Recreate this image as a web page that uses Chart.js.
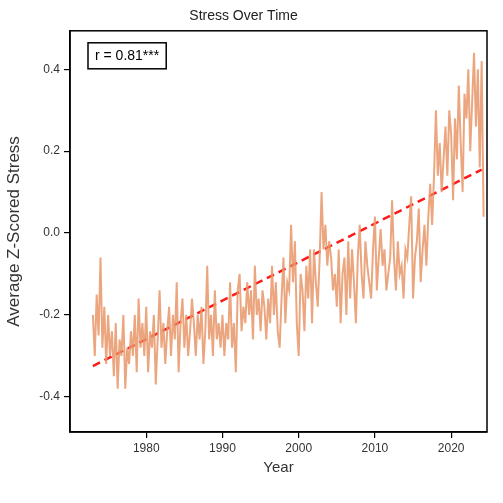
<!DOCTYPE html>
<html><head><meta charset="utf-8">
<script src="https://cdn.jsdelivr.net/npm/chart.js@4"></script>
<style>html,body{margin:0;padding:0;background:#fff}#w{width:503px;height:503px}</style>
</head><body><div id="w"><canvas id="c"></canvas></div>
<script>
const startYear = 1973;
const perYear = 4;
const stress = [
-0.20,-0.30,-0.15,-0.25, -0.06,-0.28,-0.18,-0.32, -0.20,-0.30,-0.24,-0.35, -0.22,-0.38,-0.26,-0.30,
-0.20,-0.38,-0.28,-0.32, -0.24,-0.30,-0.20,-0.34, -0.16,-0.28,-0.22,-0.30, -0.18,-0.34,-0.24,-0.28,
-0.20,-0.37,-0.26,-0.14, -0.28,-0.22,-0.32,-0.24, -0.18,-0.30,-0.20,-0.26, -0.12,-0.34,-0.22,-0.16,
-0.28,-0.20,-0.30,-0.24, -0.16,-0.22,-0.30,-0.20, -0.26,-0.18,-0.32,-0.24, -0.08,-0.26,-0.20,-0.30,
-0.14,-0.26,-0.22,-0.28, -0.20,-0.30,-0.22,-0.26, -0.12,-0.28,-0.22,-0.34, -0.14,-0.10,-0.24,-0.18,
-0.22,-0.12,-0.20,-0.14, -0.26,-0.08,-0.20,-0.16, -0.24,-0.14,-0.18,-0.26, -0.16,-0.22,-0.08,-0.20,
-0.12,-0.24,-0.28,-0.16, -0.06,-0.22,-0.12,-0.14, 0.02,-0.12,-0.02,-0.22, -0.30,-0.10,-0.14,-0.24,
-0.08,-0.16,-0.04,-0.22, -0.04,-0.12,-0.18,-0.06, 0.10,-0.04,0.02,-0.08, -0.02,-0.06,-0.14,-0.10,
-0.18,-0.04,-0.22,-0.10, -0.06,-0.20,-0.02,-0.16, -0.04,-0.12,-0.22,-0.06, 0.02,-0.10,-0.16,-0.02,
-0.08,-0.12,-0.16,-0.04, 0.04,-0.14,-0.06,0.01, -0.08,-0.04,-0.14,-0.10, -0.06,0.08,-0.06,-0.14,
-0.02,-0.10,-0.08,-0.16, -0.04,-0.06,0.02,0.09, -0.16,-0.06,-0.02,0.06, -0.12,-0.04,0.02,-0.08,
0.04,0.12,0.02,0.14, 0.30,0.14,0.22,0.10, 0.18,0.26,0.14,0.30, 0.24,0.08,0.28,0.18,
0.36,0.22,0.10,0.34, 0.28,0.40,0.20,0.32, 0.44,0.26,0.40,0.16, 0.42,0.04
];
const trendYears = [1973, 2024];
const trendValues = [-0.325, 0.155];
const xTicks = [1980, 1990, 2000, 2010, 2020];
const yTicks = [-0.4, -0.2, 0.0, 0.2, 0.4];
const annotationText = 'r = 0.81***';

const stressPts = stress.map((v,i)=>({x: startYear + i/perYear, y: v}));
const trendPts = trendYears.map((x,i)=>({x, y: trendValues[i]}));
const F = '"Liberation Sans", Arial, sans-serif';

const annot = {id:'annot', afterDraw(ch){
  const c=ch.ctx, a=ch.chartArea;
  c.save(); c.font='14px '+F;
  const w=c.measureText(annotationText).width;
  const x=a.left+18, y=a.top+12;
  c.fillStyle='#fff'; c.fillRect(x,y,w+14,26);
  c.strokeStyle='#000'; c.lineWidth=1.5; c.strokeRect(x,y,w+14,26);
  c.fillStyle='#000'; c.textBaseline='middle'; c.fillText(annotationText,x+7,y+13);
  c.strokeRect(a.left,a.top,a.right-a.left,a.bottom-a.top);
  c.restore();
}};

new Chart(document.getElementById('c'),{
  type:'line',
  data:{datasets:[
    {data:stressPts, borderColor:'rgba(232,150,105,0.85)', borderWidth:2, pointRadius:0, tension:0},
    {data:trendPts, borderColor:'#ff1a1a', borderWidth:2.5, borderDash:[8,5], pointRadius:0}
  ]},
  options:{responsive:true, maintainAspectRatio:false, animation:false,
    layout:{padding:{top:0,right:16,bottom:22,left:0}},
    plugins:{legend:{display:false}, tooltip:{enabled:false},
      title:{display:true, text:'Stress Over Time', color:'#222', font:{family:F,size:14,weight:'normal'}, padding:{top:8,bottom:6}}},
    scales:{
      x:{type:'linear', min:1970, max:2024.7,
        grid:{drawOnChartArea:false, color:'#000', tickLength:6, lineWidth:1.2},
        border:{color:'#000',width:1.5},
        afterBuildTicks(ax){ax.ticks=xTicks.map(v=>({value:v}));},
        afterFit(ax){ax.height=49;},
        ticks:{color:'#333', font:{family:F,size:12}, padding:3, callback:v=>String(v)},
        title:{display:true,text:'Year',color:'#333',font:{family:F,size:15},padding:{top:2}}},
      y:{min:-0.486, max:0.494,
        grid:{drawOnChartArea:false, color:'#000', tickLength:6, lineWidth:1.2},
        border:{color:'#000',width:1.5},
        afterBuildTicks(ax){ax.ticks=yTicks.map(v=>({value:v}));},
        afterFit(ax){ax.width=70;},
        ticks:{color:'#333', font:{family:F,size:12}, padding:4, callback:v=>v.toFixed(1)},
        title:{display:true,text:'Average Z-Scored Stress',color:'#333',font:{family:F,size:17},padding:{bottom:2}}}
    }
  },
  plugins:[annot]
});
</script></body></html>
